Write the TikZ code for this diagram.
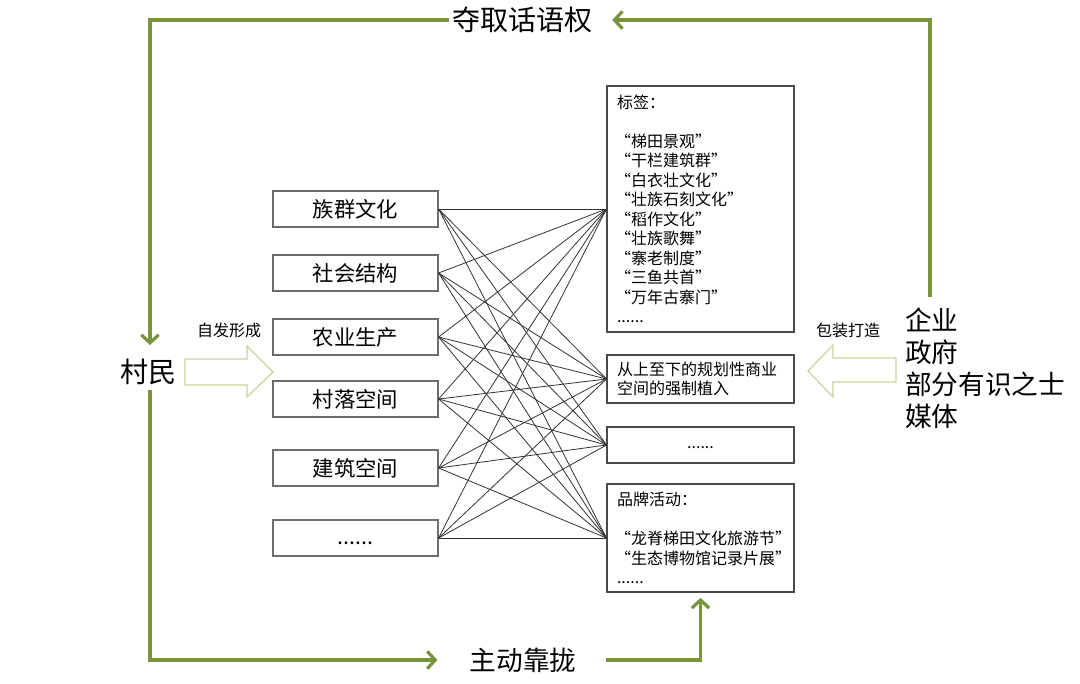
\documentclass[tikz,border=0pt]{standalone}
\usepackage{fontspec}
\setmainfont{Noto Sans CJK SC}
\usetikzlibrary{arrows.meta}
\definecolor{grn}{HTML}{77933C}
\definecolor{lgrn}{HTML}{C3D69B}
\definecolor{boxgray}{HTML}{6E6E6E}
\definecolor{rgray}{HTML}{4A4A4A}
\definecolor{linkc}{HTML}{333333}
\newcommand{\qi}{\hspace*{-1.5pt}}
\begin{document}
\begin{tikzpicture}[x=0.75pt,y=-0.75pt,
 lbox/.style={draw=boxgray, line width=0.9pt, minimum width=123.75pt, minimum height=27pt, inner sep=0pt, font=\fontsize{16}{19}\selectfont},
 rbox/.style={draw=rgray, line width=0.8pt, text width=125.25pt, inner xsep=7.5pt, inner ysep=1pt, align=left, font=\fontsize{12}{14.6}\selectfont},
 link/.style={draw=linkc, line width=0.6pt},
 garrow/.style={draw=grn, line width=2.4pt, -{Straight Barb[length=6pt,width=13pt]}},
 hollow/.style={draw=lgrn, line width=0.9pt, fill=white, line join=miter},
 big/.style={font=\fontsize{21}{24}\selectfont, inner sep=2pt},
 small/.style={font=\fontsize{12}{14}\selectfont, inner sep=0pt}]
\useasboundingbox[fill=white] (0,0) rectangle (1080,683);

% left boxes
\node[lbox] (L1) at (355.5,209) {族群文化};
\node[lbox] (L2) at (355.5,273) {社会结构};
\node[lbox] (L3) at (355.5,337) {农业生产};
\node[lbox] (L4) at (355.5,399) {村落空间};
\node[lbox] (L5) at (355.5,468) {建筑空间};
\node[lbox] (L6) at (355.5,538) {\raisebox{-4.5pt}[0pt][0pt]{......}};

% right boxes
\node[rbox, minimum height=184.5pt] (R1) at (700.5,209) {标签：\\[14.6pt]
\qi“梯田景观”\\
\qi“干栏建筑群”\\
\qi“白衣壮文化”\\
\qi“壮族石刻文化”\\
\qi“稻作文化”\\
\qi“壮族歌舞”\\
\qi“寨老制度”\\
\qi“三鱼共首”\\
\qi“万年古寨门”\\
......};
\node[rbox, minimum height=36pt] (R2) at (700.5,379) {从上至下的规划性商业\\空间的强制植入};
\node[rbox, minimum height=27pt, align=center] (R3) at (700.5,445) {\raisebox{-2.5pt}[0pt][0pt]{......}};
\node[rbox, minimum height=81pt] (R4) at (700.5,538) {品牌活动：\\[14.6pt]
\qi“龙脊梯田文化旅游节”\\
\qi“生态博物馆记录片展”\\
......};

% links
\foreach \i in {1,...,6}{
  \foreach \j in {1,...,4}{
    \draw[link] (L\i.east) -- (R\j.west);
  }
}

% texts
\node[big] (T) at (522,20) {夺取话语权};
\node[big] (V) at (148.5,372) {村民};
\node[font=\fontsize{20}{24}\selectfont, inner sep=2pt] (B) at (523,660) {主动靠拢};
\node[font=\fontsize{20}{24}\selectfont, align=left, anchor=west, inner sep=0pt] (E) at (905,368) {企业\\政府\\部分有识之士\\媒体};
\node[small] (lab1) at (229,330) {自发形成};
\node[small] (lab2) at (848,330) {包装打造};

% hollow arrows
\draw[hollow] (185,359) -- (247,359) -- (247,346) -- (273,372) -- (247,397) -- (247,385) -- (185,385) -- cycle;
\draw[hollow] (896,358) -- (833,358) -- (833,345) -- (808,371) -- (833,397) -- (833,382) -- (896,382) -- cycle;

% green connectors
\coordinate (vtop) at (150,345);
\coordinate (vbot) at (150,390);
\coordinate (rc) at (930,297);
\draw[garrow] (T.west) -| (vtop);
\draw[garrow, shorten >=22pt] (vbot) |- (B.west);
\draw[garrow, shorten <=20pt, shorten >=4pt] (B.east) -| (R4.south);
\draw[garrow, shorten >=13pt] (rc) |- (T.east);
\end{tikzpicture}
\end{document}
